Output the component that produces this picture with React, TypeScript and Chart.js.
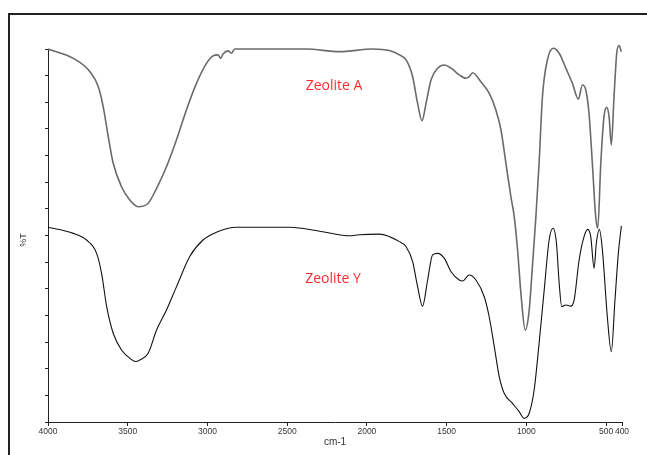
import React, { useEffect, useRef } from "react";
import { Chart, registerables } from "chart.js";

Chart.register(...registerables);

// Zeolite A (upper trace)
const waveA = [4000, 3842, 3737, 3685, 3654, 3622, 3591, 3539, 3487, 3435, 3372, 3319, 3257, 3194, 3132, 3069, 3006, 2965, 2934, 2917, 2902, 2871, 2850, 2829, 2380, 2172, 1963, 1859, 1796, 1754, 1713, 1682, 1654, 1629, 1598, 1556, 1514, 1472, 1421, 1379, 1358, 1337, 1285, 1233, 1191, 1159, 1128, 1097, 1076, 1055, 1034, 1007, 982, 962, 940, 920, 899, 868, 830, 794, 752, 711, 674, 648, 627, 607, 586, 565, 552, 533, 513, 496, 481, 467, 450, 433, 419, 404];
const transA = [14.0, 13.65, 13.15, 12.59, 11.84, 10.71, 9.71, 8.83, 8.33, 8.08, 8.21, 8.77, 9.58, 10.59, 11.71, 12.71, 13.46, 13.74, 13.78, 13.65, 13.81, 13.93, 13.84, 14.0, 14.0, 13.9, 14.0, 13.94, 13.78, 13.59, 12.96, 11.96, 11.31, 11.96, 12.84, 13.28, 13.4, 13.28, 13.03, 12.9, 12.96, 13.11, 12.77, 12.34, 11.71, 10.96, 9.71, 8.46, 7.71, 6.46, 4.83, 3.45, 4.2, 5.83, 7.71, 9.71, 12.21, 13.59, 14.03, 13.84, 13.28, 12.71, 12.12, 12.65, 12.46, 11.59, 9.71, 7.71, 7.27, 9.71, 11.46, 11.81, 11.46, 10.4, 12.21, 13.84, 14.13, 13.9];

// Zeolite Y (lower trace)
const waveY = [4000, 3842, 3758, 3695, 3664, 3632, 3591, 3539, 3476, 3450, 3424, 3372, 3319, 3257, 3194, 3111, 3028, 2944, 2819, 2485, 2276, 2109, 2047, 1921, 1796, 1754, 1713, 1682, 1651, 1619, 1588, 1556, 1514, 1472, 1421, 1400, 1358, 1316, 1264, 1233, 1201, 1170, 1139, 1087, 1045, 1014, 982, 951, 920, 888, 857, 832, 811, 794, 778, 752, 721, 700, 669, 638, 615, 596, 575, 561, 542, 523, 492, 467, 444, 423, 404];
const transY = [7.31, 7.08, 6.83, 6.33, 5.58, 4.33, 3.33, 2.7, 2.34, 2.27, 2.33, 2.58, 3.45, 4.2, 5.08, 6.21, 6.83, 7.12, 7.31, 7.31, 7.14, 6.99, 7.03, 7.05, 6.77, 6.58, 6.02, 5.08, 4.35, 5.33, 6.27, 6.33, 6.14, 5.64, 5.33, 5.29, 5.52, 5.33, 4.7, 3.95, 2.83, 1.7, 1.08, 0.7, 0.39, 0.14, 0.33, 1.2, 2.95, 4.95, 6.83, 7.27, 6.71, 5.21, 4.33, 4.39, 4.35, 4.58, 6.08, 6.96, 7.23, 6.96, 5.77, 6.71, 7.23, 6.46, 3.95, 2.64, 4.58, 6.33, 7.36];

const xTickValues = [4000, 3500, 3000, 2500, 2000, 1500, 1000, 500, 400];
const seriesLabels = ["Zeolite A", "Zeolite Y"];
const xTitle = "cm-1";
const yTitle = "%T";

const textPlugin = {
  id: "textPlugin",
  afterDraw(chart: any) {
    const ctx = chart.ctx;
    ctx.save();
    ctx.fillStyle = "#ff2a2a";
    ctx.font = "14px 'Open Sans'";
    ctx.textAlign = "center";
    ctx.textBaseline = "middle";
    ctx.fillText(seriesLabels[0], 334, 86);
    ctx.fillText(seriesLabels[1], 333, 279);
    ctx.fillStyle = "#333";
    ctx.font = "10px 'Liberation Sans'";
    ctx.fillText(xTitle, 335, 442);
    ctx.translate(24, 240);
    ctx.rotate(-Math.PI / 2);
    ctx.font = "9px 'Liberation Sans'";
    ctx.fillText(yTitle, 0, 0);
    ctx.restore();
  },
};

export default function App() {
  const ref = useRef<HTMLCanvasElement>(null);
  useEffect(() => {
    if (!ref.current) return;
    const chart = new Chart(ref.current, {
      type: "line",
      data: {
        datasets: [
          {
            label: seriesLabels[0],
            data: waveA.map((x, i) => ({ x, y: transA[i] })),
            borderColor: "#6a6a6a",
            borderWidth: 1.6,
            pointRadius: 0,
            cubicInterpolationMode: "monotone",
            clip: false as any,
          },
          {
            label: seriesLabels[1],
            data: waveY.map((x, i) => ({ x, y: transY[i] })),
            borderColor: "#111",
            borderWidth: 1.1,
            pointRadius: 0,
            cubicInterpolationMode: "monotone",
            clip: false as any,
          },
        ],
      },
      options: {
        responsive: false,
        animation: false,
        layout: { padding: { left: 38, right: 25, top: 49, bottom: 12 } },
        plugins: { legend: { display: false }, tooltip: { enabled: false } },
        scales: {
          x: {
            type: "linear",
            min: 400,
            max: 4000,
            reverse: true,
            afterBuildTicks: (s: any) => {
              s.ticks = xTickValues.map((v) => ({ value: v }));
            },
            afterFit: (s: any) => {
              s.height = 21;
            },
            grid: { drawOnChartArea: false, drawTicks: true, tickLength: 4, color: "#222" },
            border: { display: true, color: "#222", width: 1 },
            ticks: {
              autoSkip: false,
              maxRotation: 0,
              padding: 1,
              color: "#333",
              font: { family: "'Liberation Sans'", size: 8.5 },
              callback: (v: any) => String(v),
            },
          },
          y: {
            min: 0,
            max: 14,
            afterFit: (s: any) => {
              s.width = 10;
            },
            grid: { drawOnChartArea: false, drawTicks: true, tickLength: 3, color: "#222" },
            border: { display: true, color: "#222", width: 1 },
            ticks: { stepSize: 1, display: false },
          },
        },
      },
      plugins: [textPlugin],
    });
    return () => chart.destroy();
  }, []);
  return (
    <div style={{ position: "fixed", left: 0, top: 0, width: 647, height: 455, background: "#fff" }}>
      <div
        style={{
          position: "absolute",
          left: 8,
          top: 13,
          width: 700,
          height: 500,
          border: "2px solid #222",
          boxSizing: "border-box",
        }}
      />
      <canvas ref={ref} width={647} height={455} style={{ position: "absolute", left: 0, top: 0 }} />
    </div>
  );
}
